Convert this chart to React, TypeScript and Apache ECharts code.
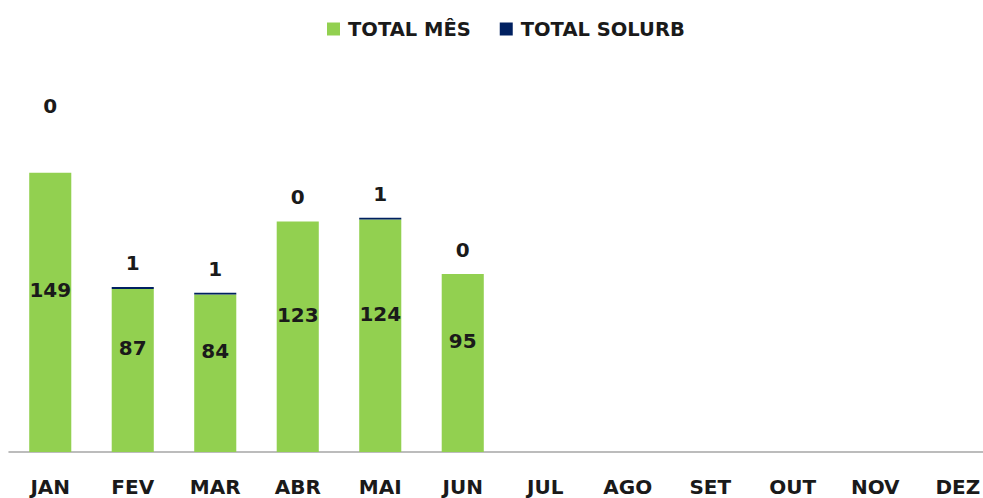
import React, { useEffect, useRef } from "react";
import * as echarts from "echarts";

const months = ["JAN", "FEV", "MAR", "ABR", "MAI", "JUN", "JUL", "AGO", "SET", "OUT", "NOV", "DEZ"];
const totalMes = [149, 87, 84, 123, 124, 95, null, null, null, null, null, null];
const totalSolurb = [0, 1, 1, 0, 1, 0, null, null, null, null, null, null];

const FONT = "DejaVu Sans";
const TXT = "#1a1a1a";

export default function App() {
  const ref = useRef<HTMLDivElement>(null);
  useEffect(() => {
    if (!ref.current) return;
    const chart = echarts.init(ref.current, undefined, { renderer: "svg" });
    const solurbData = totalSolurb.map((v, i) =>
      i === 0 && v !== null ? { value: v, label: { distance: 57 } } : v
    );
    chart.setOption({
      animation: false,
      backgroundColor: "#ffffff",
      legend: {
        top: 14,
        left: 322,
        itemWidth: 13,
        itemHeight: 13,
        itemGap: 29,
        icon: "rect",
        textStyle: {
          fontFamily: FONT,
          fontWeight: "bold",
          fontSize: 19.5,
          color: TXT,
          padding: [0, 0, 0, 3],
        },
        data: ["TOTAL MÊS", "TOTAL SOLURB"],
      },
      grid: {
        left: 9,
        width: 990,
        top: 77,
        bottom: 46,
        containLabel: false,
        outerBoundsMode: "none",
      },
      xAxis: {
        type: "category",
        data: months,
        axisLine: { lineStyle: { color: "#a6a6a6", width: 1.5 } },
        axisTick: { show: false },
        axisLabel: {
          margin: 25,
          fontFamily: FONT,
          fontWeight: "bold",
          fontSize: 20,
          color: TXT,
        },
      },
      yAxis: { type: "value", min: 0, max: 200, show: false, splitLine: { show: false } },
      series: [
        {
          name: "TOTAL MÊS",
          type: "bar",
          stack: "t",
          barWidth: "51%",
          data: totalMes,
          itemStyle: { color: "#92D050" },
          label: {
            show: true,
            position: "inside",
            offset: [0, -22],
            fontFamily: FONT,
            fontWeight: "bold",
            fontSize: 20,
            color: TXT,
          },
        },
        {
          name: "TOTAL SOLURB",
          type: "bar",
          stack: "t",
          barWidth: "51%",
          data: solurbData,
          itemStyle: { color: "#002060" },
          label: {
            show: true,
            position: "top",
            distance: 14,
            fontFamily: FONT,
            fontWeight: "bold",
            fontSize: 20,
            color: TXT,
          },
        },
      ],
    });
    return () => chart.dispose();
  }, []);
  return (
    <div
      ref={ref}
      style={{ position: "fixed", left: 0, top: 0, width: 983, height: 498, background: "#fff" }}
    />
  );
}
